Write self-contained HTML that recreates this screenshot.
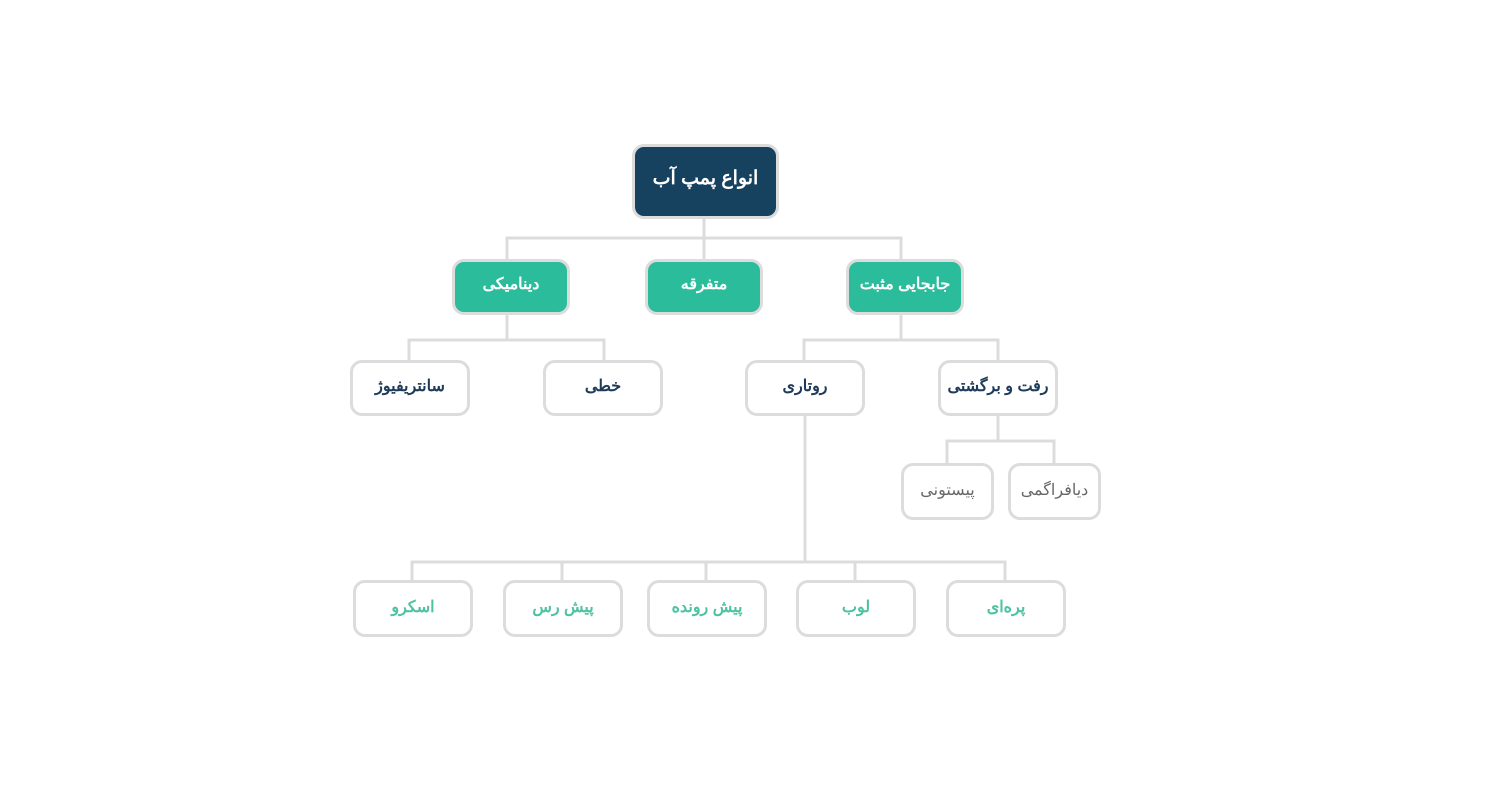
<!DOCTYPE html>
<html><head><meta charset="utf-8"><style>
body{margin:0;width:1500px;height:800px;background:#fff;position:relative;overflow:hidden;font-family:"Liberation Sans","Noto Sans CJK SC",sans-serif}
.b{position:absolute;box-sizing:border-box;border:3px solid #dcdcdc;border-radius:12px;display:flex;align-items:center;justify-content:center;font-size:16px;direction:rtl;background:#fff;padding-bottom:4px}
.r{background:#16415f;color:#fff;font-weight:bold;font-size:19px;padding-bottom:6px}
.g{background:#2bbc9b;color:#fff;font-weight:bold;padding-bottom:6px}
.d{color:#1f3b5a;font-weight:bold}
.y{color:#666}
.t{color:#4fc3a1;font-weight:bold}
svg{position:absolute;left:0;top:0}
</style></head><body>
<svg width="1500" height="800"><g stroke="#dcdcdc" stroke-width="3" fill="none">
<path d="M704 218V238M507 259V238H901V259M704 238V259"/>
<path d="M507 314V340M409 360V340H604V360"/>
<path d="M901 314V340M804 360V340H998V360"/>
<path d="M998 415V441M947 463V441H1054V463"/>
<path d="M805 415V562M412 580V562H1005V580M562 562V580M706 562V580M855 562V580"/>
</g></svg>
<div class="b r" style="left:632px;top:144px;width:147px;height:75px">انواع پمپ آب</div>
<div class="b g" style="left:452px;top:259px;width:118px;height:56px">دینامیکی</div>
<div class="b g" style="left:645px;top:259px;width:118px;height:56px">متفرقه</div>
<div class="b g" style="left:846px;top:259px;width:118px;height:56px">جابجایی مثبت</div>
<div class="b d" style="left:350px;top:360px;width:120px;height:56px">سانتریفیوژ</div>
<div class="b d" style="left:543px;top:360px;width:120px;height:56px">خطی</div>
<div class="b d" style="left:745px;top:360px;width:120px;height:56px">روتاری</div>
<div class="b d" style="left:938px;top:360px;width:120px;height:56px">رفت و برگشتی</div>
<div class="b y" style="left:901px;top:463px;width:93px;height:57px">پیستونی</div>
<div class="b y" style="left:1008px;top:463px;width:93px;height:57px">دیافراگمی</div>
<div class="b t" style="left:353px;top:580px;width:120px;height:57px">اسکرو</div>
<div class="b t" style="left:503px;top:580px;width:120px;height:57px">پیش رس</div>
<div class="b t" style="left:647px;top:580px;width:120px;height:57px">پیش رونده</div>
<div class="b t" style="left:796px;top:580px;width:120px;height:57px">لوب</div>
<div class="b t" style="left:946px;top:580px;width:120px;height:57px">پره‌ای</div>
</body></html>
